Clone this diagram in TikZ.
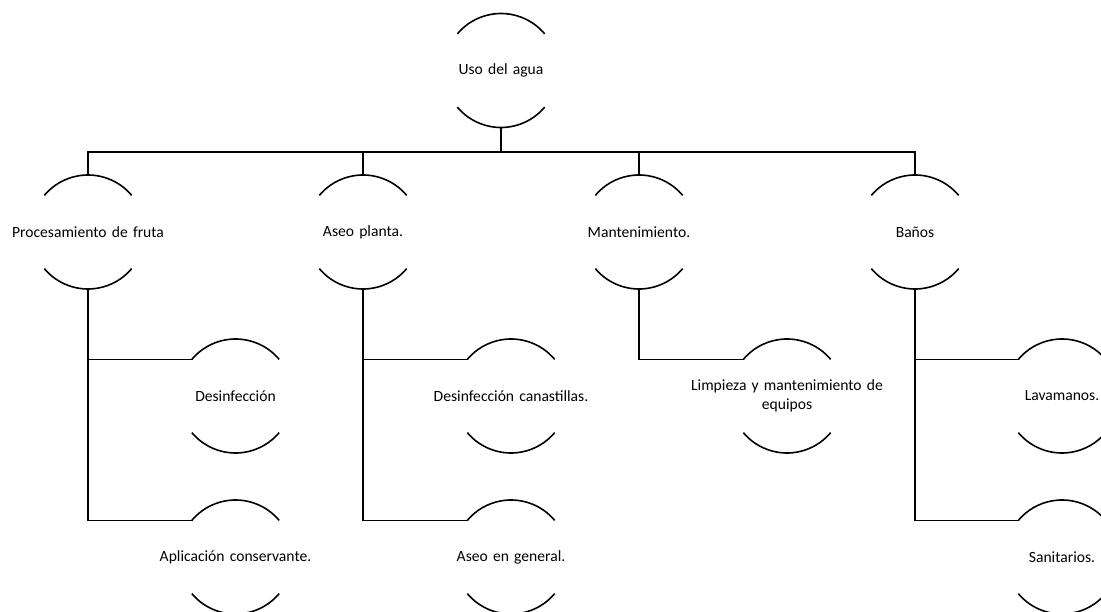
\documentclass[tikz,border=0pt]{standalone}
\usepackage{fontspec}
\setmainfont{Carlito}
\begin{document}
\begin{tikzpicture}[
  arcnode/.style={circle, minimum size=114pt, inner sep=0pt, outer sep=0pt},
  txt/.style={font=\fontsize{15.6}{19.5}\selectfont, align=center, text width=205pt, inner sep=0pt},
  conn/.style={line width=1.6pt, line cap=rect},
  arcline/.style={line width=1.6pt}
]
\useasboundingbox (0pt,0pt) rectangle (1101pt,-612pt);
\clip (0pt,0pt) rectangle (1101pt,-612pt);
% nodes
\node[arcnode] (top) at (501pt,-70.5pt) {};
\node[arcnode] (p1) at (88pt,-232pt) {};
\node[arcnode] (p2) at (363pt,-232pt) {};
\node[arcnode] (p3) at (639pt,-232pt) {};
\node[arcnode] (p4) at (915pt,-232pt) {};
\node[arcnode] (c11) at (235.5pt,-396pt) {};
\node[arcnode] (c12) at (235.5pt,-557pt) {};
\node[arcnode] (c21) at (511pt,-396pt) {};
\node[arcnode] (c22) at (511pt,-557pt) {};
\node[arcnode] (c31) at (787pt,-396pt) {};
\node[arcnode] (c41) at (1062pt,-396pt) {};
\node[arcnode] (c42) at (1062pt,-557pt) {};
% texts
\node[txt] (ttop) at (top) {Uso del agua};
\node[txt] (tp1) at (p1) {Procesamiento de fruta};
\node[txt] (tp2) at (p2) {Aseo planta.};
\node[txt] (tp3) at (p3) {Mantenimiento.};
\node[txt] (tp4) at (p4) {Baños};
\node[txt] (tc11) at (c11) {Desinfección};
\node[txt] (tc12) at (c12) {Aplicación conservante.};
\node[txt] (tc21) at (c21) {Desinfección canastillas.};
\node[txt] (tc22) at (c22) {Aseo en general.};
\node[txt] (tc31) at (c31) {Limpieza y mantenimiento de\\equipos};
\node[txt] (tc41) at (c41) {Lavamanos.};
\node[txt] (tc42) at (c42) {Sanitarios.};
% arcs
\foreach \n in {top,p1,p2,p3,p4,c11,c12,c21,c22,c31,c41,c42}{
  \draw[arcline] (\n.40) arc[start angle=40, end angle=140, radius=57pt];
  \draw[arcline] (\n.220) arc[start angle=220, end angle=320, radius=57pt];
}
% connectors
\coordinate (bus) at (501pt,-152pt);
\draw[conn] (top.south) -- (bus);
\draw[conn] (p1.north) |- (bus) -| (p4.north);
\draw[conn] (p2.north) -- (p2.north |- bus);
\draw[conn] (p3.north) -- (p3.north |- bus);
\draw[conn] (p1.south) |- (c11.140);
\draw[conn] (p1.south) |- (c12.140);
\draw[conn] (p2.south) |- (c21.140);
\draw[conn] (p2.south) |- (c22.140);
\draw[conn] (p3.south) |- (c31.140);
\draw[conn] (p4.south) |- (c41.140);
\draw[conn] (p4.south) |- (c42.140);
\end{tikzpicture}
\end{document}
